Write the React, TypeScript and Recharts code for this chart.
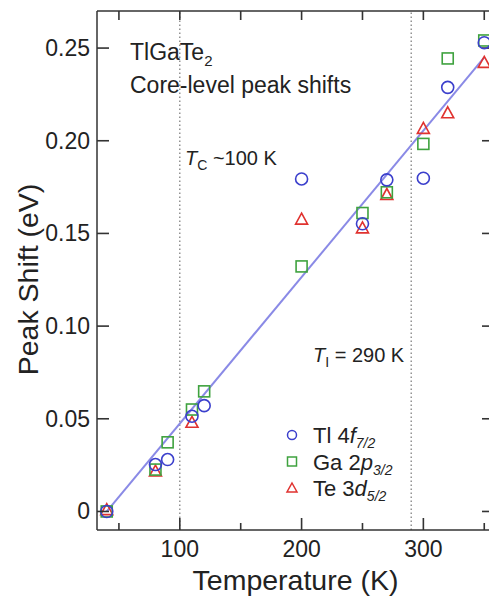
import React from 'react';
import { ComposedChart, Scatter, Line, XAxis, YAxis, ReferenceLine, Legend, Label } from 'recharts';

// temperatures (K) and peak shifts (eV) per core level
const tlTemp = [40, 80, 90, 110, 120, 200, 250, 270, 300, 320, 350];
const tlShift = [0, 0.0253, 0.028, 0.0514, 0.0571, 0.1794, 0.1552, 0.1789, 0.1798, 0.2288, 0.2529];
const gaTemp = [40, 80, 90, 110, 120, 200, 250, 270, 300, 320, 350];
const gaShift = [0, 0.0226, 0.0373, 0.055, 0.0648, 0.1322, 0.161, 0.1722, 0.1983, 0.2444, 0.2541];
const teTemp = [40, 80, 110, 200, 250, 270, 300, 320, 350];
const teShift = [0.001, 0.0218, 0.0481, 0.1577, 0.153, 0.171, 0.2067, 0.2151, 0.2423];
// linear fit, end points
const fitTemp = [40, 350];
const fitShift = [0, 0.245];

const transitions = [100, 290];
const xTicks = [50, 100, 150, 200, 250, 300, 350];
const yTicks = [0, 0.05, 0.1, 0.15, 0.2, 0.25];
const yTickLabels = ['0', '0.05', '0.10', '0.15', '0.20', '0.25'];

const X_DOMAIN: [number, number] = [32, 358];
const Y_DOMAIN: [number, number] = [-0.01, 0.27];

const FONT = '"Liberation Sans", Arial, Helvetica, sans-serif';
const AXIS = '#333';
const INK = '#222';
const BLUE = '#3b3fcc';
const GREEN = '#3fa23f';
const RED = '#e0322f';
const FIT = '#8a8ae6';

const toPoints = (ts: number[], vs: number[]) => ts.map((t, i) => ({ t, v: vs[i] }));

const tlData = toPoints(tlTemp, tlShift);
const gaData = toPoints(gaTemp, gaShift);
const teData = toPoints(teTemp, teShift);
const fitData = toPoints(fitTemp, fitShift);

// anchors for the inward ticks on the top and right edges
const rightTicks = yTicks.map((v) => ({ t: X_DOMAIN[1], v }));
const topTicks = xTicks.map((t) => ({ t, v: Y_DOMAIN[1] }));

const Circle = ({ cx, cy }: any) => <circle cx={cx} cy={cy} r={6} fill="none" stroke={BLUE} strokeWidth={1.6} />;
const Square = ({ cx, cy }: any) => (
  <rect x={cx - 5.5} y={cy - 5.5} width={11} height={11} fill="none" stroke={GREEN} strokeWidth={1.6} />
);
const Triangle = ({ cx, cy }: any) => (
  <polygon points={`${cx},${cy - 6} ${cx + 6},${cy + 5} ${cx - 6},${cy + 5}`} fill="none" stroke={RED} strokeWidth={1.6} />
);

// tick marks drawn as thin filled rects
const RightTickMark = ({ cx, cy }: any) => <rect x={Number(cx) - 12} y={Number(cy) - 0.8} width={12} height={1.6} fill={AXIS} />;
const TopTickMark = ({ cx, cy }: any) => <rect x={Number(cx) - 0.8} y={Number(cy)} width={1.6} height={9} fill={AXIS} />;

const BottomTick = (props: any) => {
  const x = Number(props.x);
  const y = Number(props.y);
  const value = props.payload?.value;
  const major = value % 100 === 0;
  const len = major ? 12 : 7;
  return (
    <g>
      <rect x={x - 0.8} y={y - len} width={1.6} height={len} fill={AXIS} />
      {major && (
        <text x={x} y={y + 27} textAnchor="middle" fontSize={23} fill={INK} fontFamily={FONT}>
          {value}
        </text>
      )}
    </g>
  );
};

const LeftTick = (props: any) => {
  const x = Number(props.x);
  const y = Number(props.y);
  const value = props.payload?.value;
  return (
    <g>
      <rect x={x} y={y - 0.8} width={12} height={1.6} fill={AXIS} />
      <text x={x - 7} y={y} textAnchor="end" dominantBaseline="central" fontSize={23} fill={INK} fontFamily={FONT}>
        {yTickLabels[yTicks.indexOf(value)] ?? String(value)}
      </text>
    </g>
  );
};

const axisStroke = { stroke: AXIS, strokeWidth: 1.5 };

const YTitle = ({ viewBox }: any) => {
  const cx = viewBox.x + 28;
  const cy = viewBox.y + viewBox.height / 2 + 9;
  return (
    <text x={cx} y={cy} transform={`rotate(-90 ${cx} ${cy})`} textAnchor="middle" dominantBaseline="central"
      fontSize={28.5} fill={INK} fontFamily={FONT}>
      Peak Shift (eV)
    </text>
  );
};

const XTitle = ({ viewBox }: any) => (
  <text x={viewBox.x + viewBox.width / 2} y={viewBox.y + 60} textAnchor="middle" fontSize={28.5} fill={INK} fontFamily={FONT}>
    Temperature (K)
  </text>
);

const legendRows = [
  { name: 'Tl 4', orb: 'f', sub: '7/2', color: BLUE, kind: 'circle' },
  { name: 'Ga 2', orb: 'p', sub: '3/2', color: GREEN, kind: 'square' },
  { name: 'Te 3', orb: 'd', sub: '5/2', color: RED, kind: 'triangle' },
];

const renderLegend = () => (
  <svg width={150} height={86} style={{ display: 'block' }}>
    {legendRows.map((r, i) => {
      const my = 15 + i * 26.5;
      const mx = 12;
      return (
        <g key={r.name}>
          {r.kind === 'circle' && <circle cx={mx} cy={my} r={4.5} fill="none" stroke={r.color} strokeWidth={1.5} />}
          {r.kind === 'square' && <rect x={mx - 4.5} y={my - 4.5} width={9} height={9} fill="none" stroke={r.color} strokeWidth={1.5} />}
          {r.kind === 'triangle' && (
            <polygon points={`${mx},${my - 5} ${mx + 5},${my + 4} ${mx - 5},${my + 4}`} fill="none" stroke={r.color} strokeWidth={1.5} />
          )}
          <text x={33} y={my + 8} fontSize={22} fill={INK} fontFamily={FONT}>
            {r.name}
            <tspan fontStyle="italic">{r.orb}</tspan>
            <tspan fontStyle="italic" fontSize={14} dy={5}>{r.sub}</tspan>
          </text>
        </g>
      );
    })}
  </svg>
);

export default function App() {
  return (
    <div style={{ position: 'fixed', left: 0, top: 0, width: 489, height: 599, overflow: 'hidden', background: '#fff' }}>
      <ComposedChart width={500} height={599} margin={{ top: 11, right: 6, bottom: 0, left: 0 }}>
        <XAxis xAxisId="b" dataKey="t" type="number" domain={X_DOMAIN} ticks={xTicks} interval={0}
          height={69} tickSize={0} tickMargin={0} tick={<BottomTick />} tickLine={false} axisLine={axisStroke}>
          <Label content={<XTitle />} />
        </XAxis>
        <YAxis yAxisId="l" type="number" domain={Y_DOMAIN} ticks={yTicks} interval={0}
          width={97} tickSize={0} tickMargin={0} tick={<LeftTick />} tickLine={false} axisLine={axisStroke}>
          <Label content={<YTitle />} />
        </YAxis>
        <ReferenceLine y={Y_DOMAIN[1]} xAxisId="b" yAxisId="l" stroke={AXIS} strokeWidth={1.5} ifOverflow="visible" />
        {transitions.map((t) => (
          <ReferenceLine key={t} x={t} xAxisId="b" yAxisId="l" stroke="#777" strokeWidth={1.2} strokeDasharray="1.5 2.5" />
        ))}
        <Scatter xAxisId="b" yAxisId="l" data={rightTicks} dataKey="v" shape={<RightTickMark />} legendType="none" isAnimationActive={false} />
        <Scatter xAxisId="b" yAxisId="l" data={topTicks} dataKey="v" shape={<TopTickMark />} legendType="none" isAnimationActive={false} />
        <Line xAxisId="b" yAxisId="l" data={fitData} dataKey="v" stroke={FIT} strokeWidth={2} dot={false}
          legendType="none" isAnimationActive={false} />
        <Scatter xAxisId="b" yAxisId="l" name="Te 3d5/2" data={teData} dataKey="v" shape={<Triangle />} isAnimationActive={false} />
        <Scatter xAxisId="b" yAxisId="l" name="Ga 2p3/2" data={gaData} dataKey="v" shape={<Square />} isAnimationActive={false} />
        <Scatter xAxisId="b" yAxisId="l" name="Tl 4f7/2" data={tlData} dataKey="v" shape={<Circle />} isAnimationActive={false} />
        <Legend layout="vertical" align="center" verticalAlign="middle" content={renderLegend}
          wrapperStyle={{ left: 280, top: 420, width: 150 }} />
      </ComposedChart>
      <svg width={489} height={599} style={{ position: 'absolute', left: 0, top: 0, pointerEvents: 'none' }}
        fontFamily={FONT} fill={INK}>
        <text x={130} y={60} fontSize={23}>
          TlGaTe<tspan fontSize={15} dy={6}>2</tspan>
        </text>
        <text x={130} y={93} fontSize={23}>Core-level peak shifts</text>
        <text x={185} y={165} fontSize={20}>
          <tspan fontStyle="italic">T</tspan>
          <tspan fontSize={14} dy={5}>C</tspan>
          <tspan dy={-5}> ~100 K</tspan>
        </text>
        <text x={313} y={362} fontSize={20}>
          <tspan fontStyle="italic">T</tspan>
          <tspan fontSize={14} dy={5}>I</tspan>
          <tspan dy={-5}> = 290 K</tspan>
        </text>
      </svg>
    </div>
  );
}
